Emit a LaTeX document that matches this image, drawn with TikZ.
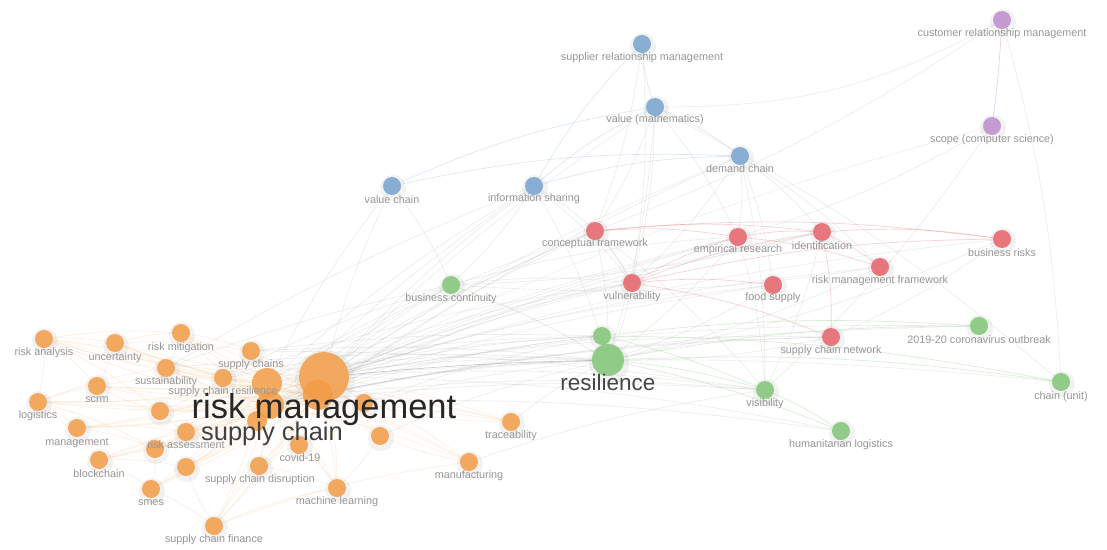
\documentclass[tikz,border=0pt]{standalone}
\usepackage{fontspec}
\setmainfont{Liberation Sans}
\usetikzlibrary{backgrounds}
\definecolor{cOrange}{RGB}{243,156,70}
\definecolor{cGreen}{RGB}{128,198,118}
\definecolor{cRed}{RGB}{230,98,104}
\definecolor{cBlue}{RGB}{118,163,206}
\definecolor{cPurple}{RGB}{190,140,205}
\definecolor{cLbl}{RGB}{150,150,150}
\definecolor{cEdge}{RGB}{165,165,165}
\begin{document}
\begin{tikzpicture}[x=1pt,y=-1pt,
  dot/.style={circle,inner sep=0pt,minimum size=18pt,fill opacity=0.85},
  onode/.style={dot,fill=cOrange},
  gnode/.style={dot,fill=cGreen},
  rnode/.style={dot,fill=cRed},
  bnode/.style={dot,fill=cBlue},
  pnode/.style={dot,fill=cPurple},
  lbl/.style={inner sep=0pt,text=cLbl,font=\fontsize{10.8}{12}\selectfont},
  gedge/.style={draw=cEdge,draw opacity=0.2,line width=0.65pt},
  oedge/.style={draw=cOrange,draw opacity=0.15,line width=0.65pt},
  gredge/.style={draw=cGreen,draw opacity=0.3,line width=0.65pt},
  redge/.style={draw=cRed,draw opacity=0.3,line width=0.65pt},
  bedge/.style={draw=cBlue,draw opacity=0.25,line width=0.65pt},
  pedge/.style={draw=cPurple,draw opacity=0.4,line width=0.65pt},
  halo/.style={circle,fill=black,fill opacity=0.05,inner sep=0pt}
]
\useasboundingbox (0,0) rectangle (1107,549);

% ---------------- orange cluster
\node[onode] (ra) at (44,339) {};
\node[onode] (un) at (115,343) {};
\node[onode] (rmit) at (181,333) {};
\node[onode] (scs) at (251,351) {};
\node[onode] (sus) at (166,368) {};
\node[onode] (scrm) at (97,386) {};
\node[onode] (log) at (38,402) {};
\node[onode] (scr) at (223,378) {};
\node[onode] (o1) at (160,411) {};
\node[onode] (ras) at (186,432) {};
\node[onode] (o2) at (155,449) {};
\node[onode] (man) at (77,428) {};
\node[onode] (bc) at (99,460) {};
\node[onode] (o3) at (186,467) {};
\node[onode] (scd) at (259,466) {};
\node[onode] (smes) at (151,489) {};
\node[onode] (scf) at (214,526) {};
\node[onode] (cov) at (299,445) {};
\node[onode] (ml) at (337,488) {};
\node[onode] (mfg) at (469,462) {};
\node[onode] (tr) at (511,422) {};
\node[onode] (o4) at (380,436) {};
\node[onode] (o5) at (364,403) {};
\node[onode,minimum size=20pt] (o8) at (257,421) {};
\node[onode,minimum size=30pt] (o6) at (267,383) {};
\node[onode,minimum size=30pt] (o7) at (318,395) {};
\node[onode,minimum size=28pt] (sc) at (270,405) {};
\node[onode,minimum size=50pt] (rm) at (324,377) {};

% ---------------- green
\node[gnode,minimum size=32pt] (res) at (608,360) {};
\node[gnode] (sres) at (602,336) {};
\node[gnode] (bcont) at (451,285) {};
\node[gnode] (vis) at (765,390) {};
\node[gnode] (hum) at (841,431) {};
\node[gnode] (cor) at (979,326) {};
\node[gnode] (cu) at (1061,382) {};

% ---------------- red
\node[rnode] (cf) at (595,231) {};
\node[rnode] (er) at (738,237) {};
\node[rnode] (id) at (822,232) {};
\node[rnode] (br) at (1002,239) {};
\node[rnode] (rmf) at (880,267) {};
\node[rnode] (vul) at (632,283) {};
\node[rnode] (fs) at (773,285) {};
\node[rnode] (scn) at (831,337) {};

% ---------------- blue
\node[bnode] (srm) at (642,44) {};
\node[bnode] (vm) at (655,107) {};
\node[bnode] (dc) at (740,156) {};
\node[bnode] (vc) at (392,186) {};
\node[bnode] (is) at (534,186) {};

% ---------------- purple
\node[pnode] (crm) at (1002,20) {};
\node[pnode] (scope) at (992,126) {};

% ---------------- labels
\node[lbl] (l-ra) at (44,353) {risk analysis};
\node[lbl] (l-un) at (115,358) {uncertainty};
\node[lbl] (l-rmit) at (181,348) {risk mitigation};
\node[lbl] (l-scs) at (251,365) {supply chains};
\node[lbl] (l-sus) at (166,382) {sustainability};
\node[lbl] (l-scrm) at (97,400) {scrm};
\node[lbl] (l-log) at (38,416) {logistics};
\node[lbl] (l-scr) at (223,392) {supply chain resilience};
\node[lbl] (l-ras) at (186,445) {risk assessment};
\node[lbl] (l-man) at (77,443) {management};
\node[lbl] (l-bc) at (99,474) {blockchain};
\node[lbl] (l-scd) at (260,480) {supply chain disruption};
\node[lbl] (l-smes) at (151,503) {smes};
\node[lbl] (l-scf) at (214,540) {supply chain finance};
\node[lbl] (l-cov) at (300,458) {covid-19};
\node[lbl] (l-ml) at (337,502) {machine learning};
\node[lbl] (l-mfg) at (469,476) {manufacturing};
\node[lbl] (l-tr) at (511,436) {traceability};
\node[lbl,text=black!85,font=\fontsize{34.5}{37}\selectfont] (l-rm) at (324,410) {risk management};
\node[lbl,text=black!75,font=\fontsize{25.5}{28}\selectfont] (l-sc) at (272,434) {supply chain};
\node[lbl,text=black!72,font=\fontsize{22.5}{25}\selectfont] (l-res) at (608,382) {resilience};
\node[lbl] (l-bcont) at (451,299) {business continuity};
\node[lbl] (l-vis) at (765,404) {visibility};
\node[lbl] (l-hum) at (841,445) {humanitarian logistics};
\node[lbl] (l-cor) at (979,340) {2019-20 coronavirus outbreak};
\node[lbl] (l-cu) at (1061,397) {chain (unit)};
\node[lbl] (l-cf) at (595,244) {conceptual framework};
\node[lbl] (l-er) at (738,250) {empirical research};
\node[lbl] (l-id) at (822,246) {identification};
\node[lbl] (l-br) at (1002,253) {business risks};
\node[lbl] (l-rmf) at (880,281) {risk management framework};
\node[lbl] (l-vul) at (632,297) {vulnerability};
\node[lbl] (l-fs) at (773,298) {food supply};
\node[lbl] (l-scn) at (831,351) {supply chain network};
\node[lbl] (l-srm) at (642,58) {supplier relationship management};
\node[lbl] (l-vm) at (655,120) {value (mathematics)};
\node[lbl] (l-dc) at (740,169) {demand chain};
\node[lbl] (l-vc) at (392,200) {value chain};
\node[lbl] (l-is) at (534,199) {information sharing};
\node[lbl] (l-crm) at (1002,34) {customer relationship management};
\node[lbl] (l-scope) at (992,140) {scope (computer science)};

\begin{scope}[on background layer]
  \fill[white] (0,0) rectangle (1107,549);
  % halos
  \foreach \n in {ra,un,rmit,scs,sus,scrm,log,scr,o1,ras,o2,man,bc,o3,scd,smes,scf,cov,ml,mfg,tr,o4,o5,sres,bcont,vis,hum,cor,cu,cf,er,id,br,rmf,vul,fs,scn,srm,vm,dc,vc,is,crm,scope}
    \node[halo,minimum size=26pt] at ([shift={(1,2)}]\n) {};
  \node[halo,minimum size=60pt] at ([shift={(1,3)}]rm) {};
  \node[halo,minimum size=40pt] at ([shift={(1,3)}]res) {};
  % orange edges
  \foreach \h in {rm,sc,o6,o7}
    \foreach \p in {ra,un,rmit,scs,sus,scrm,log,scr,o1,ras,o2,man,bc,o3,scd,smes,scf,cov,ml,mfg,tr,o4,o5,o8}
      \draw[oedge] (\h) to[bend left=5] (\p);
  \foreach \a/\b in {ra/un,ra/log,ra/scrm,ra/sus,ra/o1,un/rmit,un/scrm,un/sus,log/scrm,log/man,log/sus,log/o2,log/o1,
     man/bc,man/ras,man/o2,bc/smes,bc/ras,bc/o3,smes/scf,scf/scd,scf/ml,scf/o3,scd/ml,cov/ml,rmit/scs,rmit/sus,
     sus/scr,o1/scrm,ras/o1,scs/scr,scrm/scr,o2/smes,scd/cov,mfg/o4,tr/o5,o4/ml,scr/o1,ra/scr,un/scs,scf/mfg,ra/rmit,log/bc}
    \draw[oedge] (\a) to[bend left=6] (\b);
  % gray edges from the cluster
  \draw[gedge,draw opacity=0.6] (rm) to[bend left=2] (res);
  \foreach \p/\t in {sres/0.25,bcont/0.2,vul/0.2,cf/0.2,er/0.2,id/0.2,fs/0.2,scn/0.2,vis/0.2,hum/0.18,cor/0.18,cu/0.18,rmf/0.18,br/0.18,is/0.2,vc/0.2,dc/0.18,vm/0.18,scope/0.15}
    \draw[gedge,draw opacity=\t] (rm) to[bend left=5] (\p);
  \foreach \p in {res,sres,vul,cf,er,bcont,is,vis,scn,fs,id,cor,hum}
    \draw[gedge] (sc) to[bend left=5] (\p);
  \foreach \p in {res,sres,bcont,is,vc,vul,cf}
    \draw[gedge] (o6) to[bend left=5] (\p);
  \foreach \p in {res,sres,cf,er,dc,vis,scn}
    \draw[gedge] (o7) to[bend left=5] (\p);
  \foreach \p in {res,sres,vul,bcont}
    \draw[gedge] (scr) to[bend left=5] (\p);
  \foreach \p in {res,sres,vis}
    \draw[gedge] (scs) to[bend left=4] (\p);
  \foreach \p in {res,bcont,is}
    \draw[gedge] (sus) to[bend left=4] (\p);
  \foreach \p in {res,sres}
    \draw[gedge] (o5) to[bend left=4] (\p);
  \draw[gedge] (tr) to[bend left=5] (res);
  \draw[gedge] (mfg) to[bend left=5] (vis);
  \draw[gedge] (o4) to[bend left=5] (res);
  % green edges
  \foreach \a/\b in {res/vis,res/cor,res/cu,sres/cor,sres/cu,vis/hum,bcont/res,sres/vis}
    \draw[gredge] (\a) to[bend left=5] (\b);
  \draw[gredge] (res) to[bend left=5] (hum);
  % red edges
  \foreach \a/\b in {cf/er,cf/id,er/id,id/br,cf/br,id/scn,id/rmf,vul/er,vul/fs,vul/scn,cf/vul,vul/id,vul/br,er/rmf}
    \draw[redge] (\a) to[bend left=6] (\b);
  % blue edges
  \foreach \a/\b in {vc/dc,is/dc,is/vm,vm/srm,is/srm,vm/dc,vc/vm}
    \draw[bedge] (\a) to[bend left=7] (\b);
  % purple edge
  \draw[pedge] (crm) to[bend left=2] (scope);
  % misc gray edges
  \draw[gedge] (vm) to[bend right=14] (crm);
  \foreach \a/\b in {crm/cf,crm/cu,scope/er,scope/vis,vc/bcont,is/bcont,is/cf,is/vul,dc/er,dc/id,dc/vul,dc/rmf,vm/vul,vm/cf,vm/er,vm/cu,srm/vul,srm/cf,
     dc/fs,vul/res,cf/res,er/res,er/vis,vm/res,bcont/vul,bcont/er,id/vis,fs/res,scn/res,rmf/res,br/res,is/res,cf/vis,dc/vis,br/scn,rmf/bcont,id/bcont}
    \draw[gedge] (\a) to[bend left=6] (\b);
\end{scope}
\end{tikzpicture}
\end{document}
